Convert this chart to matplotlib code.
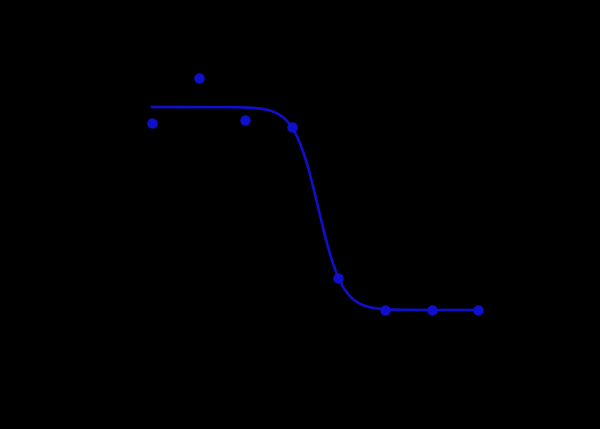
import matplotlib

matplotlib.use("Agg")
import matplotlib.pyplot as plt
import numpy as np

# log10 concentration and response (% of control)
log_conc = [-3, -2, -1, 0, 1, 2, 3, 4]
response = [92.1, 114.3, 93.6, 90.1, 15.8, 0.0, 0.0, 0.0]

# four-parameter logistic fit
top, bottom = 100.0, 0.0
log_ic50, hill = 0.57, 1.68

blue = "#1010cc"

fig = plt.figure(figsize=(6.0, 4.29), dpi=100, facecolor="black")
ax = fig.add_axes([0.1757, 0.1828, 0.699, 0.757], facecolor="black")

xs = np.linspace(min(log_conc), max(log_conc), 400)
ys = bottom + (top - bottom) / (1 + 10 ** (hill * (xs - log_ic50)))
ax.plot(xs, ys, color=blue, lw=1.9, zorder=2)
ax.plot(log_conc, response, "o", color=blue, ms=6.5, zorder=3)

ax.set_xlim(-4, 5)
ax.set_ylim(-20, 140)
for s in ax.spines.values():
    s.set_color("black")
ax.tick_params(colors="black")
ax.set_xlabel("log [concentration]", color="black")
ax.set_ylabel("% response", color="black")

fig.savefig("out.png", dpi=100, facecolor="black")
